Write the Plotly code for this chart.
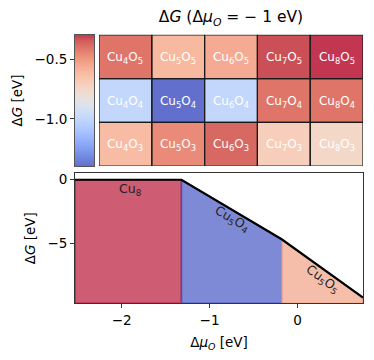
import numpy as np
import plotly.graph_objects as go

# heatmap data: dG at dmu_O = -1 eV, rows O3 (bottom) .. O5 (top), columns Cu4..Cu8
n_cu = [4, 5, 6, 7, 8]
n_o = [3, 4, 5]
dG_O3 = [-0.62, -0.46, -0.37, -0.70, -0.745]
dG_O4 = [-1.00, -1.40, -1.00, -0.40, -0.40]
dG_O5 = [-0.40, -0.61, -0.56, -0.32, -0.29]

# phase diagram: envelope breakpoints and stable phases between them
mu_pts = [-2.53, -1.32, -0.18, 0.745]
dG_pts = [0.0, 0.0, -4.70, -9.30]
phases = ["Cu<sub>8</sub>", "Cu<sub>5</sub>O<sub>4</sub>", "Cu<sub>5</sub>O<sub>5</sub>"]
phase_colors = ["rgba(180,4,38,0.65)", "rgba(59,76,192,0.65)", "rgba(240,155,125,0.65)"]

# matplotlib coolwarm
coolwarm = [
    (59, 76, 192), (68, 90, 204), (77, 104, 215), (87, 117, 225), (98, 130, 234),
    (108, 142, 241), (119, 154, 247), (130, 165, 251), (141, 176, 254), (152, 185, 255),
    (163, 194, 255), (174, 201, 253), (184, 208, 249), (194, 213, 244), (204, 217, 238),
    (213, 219, 230), (221, 221, 221), (229, 216, 209), (236, 211, 197), (241, 204, 185),
    (245, 196, 173), (247, 187, 160), (247, 177, 148), (247, 166, 135), (244, 154, 123),
    (241, 141, 111), (236, 127, 99), (229, 112, 88), (222, 96, 77), (213, 80, 66),
    (203, 62, 56), (192, 40, 47), (180, 4, 38),
]
cscale = [[i / (len(coolwarm) - 1), "rgb(%d,%d,%d)" % c] for i, c in enumerate(coolwarm)]

FONT = "DejaVu Sans"
AX = "#333333"

z = np.array([dG_O3, dG_O4, dG_O5])
zmin, zmax = z.min(), z.max()
labels = [["Cu<sub>%d</sub>O<sub>%d</sub>" % (c, o) for c in n_cu] for o in n_o]

fig = go.Figure()

fig.add_trace(
    go.Heatmap(
        z=z,
        x=list(range(len(n_cu))),
        y=list(range(len(n_o))),
        text=labels,
        texttemplate="%{text}",
        textfont=dict(family=FONT, size=12, color="white"),
        colorscale=cscale,
        zmin=zmin,
        zmax=zmax,
        opacity=0.8,
        showscale=False,
        hoverinfo="skip",
        xaxis="x",
        yaxis="y",
    )
)

# colorbar drawn as its own narrow heatmap so ticks can sit on the left
cb_vals = np.linspace(zmin, zmax, 200)
fig.add_trace(
    go.Heatmap(
        z=cb_vals.reshape(-1, 1),
        y=cb_vals,
        x=[0],
        colorscale=cscale,
        zmin=zmin,
        zmax=zmax,
        opacity=0.8,
        showscale=False,
        hoverinfo="skip",
        xaxis="x3",
        yaxis="y3",
    )
)

# cell borders
shapes = []
for i in range(len(n_cu)):
    for j in range(len(n_o)):
        shapes.append(
            dict(type="rect", xref="x", yref="y", x0=i - 0.5, x1=i + 0.5,
                 y0=j - 0.5, y1=j + 0.5, line=dict(color="#1a1a1a", width=1.2))
        )

# phase diagram
ylo = -9.76
for k, (name, col) in enumerate(zip(phases, phase_colors)):
    a, b = mu_pts[k], mu_pts[k + 1]
    fig.add_trace(
        go.Scatter(
            x=[a, a, b, b, a],
            y=[ylo, dG_pts[k], dG_pts[k + 1], ylo, ylo],
            mode="lines",
            fill="toself",
            fillcolor=col,
            line=dict(color=col, width=1.5),
            showlegend=False,
            hoverinfo="skip",
            xaxis="x2",
            yaxis="y2",
        )
    )
fig.add_trace(
    go.Scatter(
        x=mu_pts, y=dG_pts, mode="lines",
        line=dict(color="black", width=2.2),
        showlegend=False, hoverinfo="skip", xaxis="x2", yaxis="y2",
    )
)

ann = [
    dict(x=-1.91, y=-0.78, text=phases[0], textangle=0),
    dict(x=-0.74, y=-3.15, text=phases[1], textangle=30),
    dict(x=0.29, y=-7.85, text=phases[2], textangle=36),
]
annotations = [
    dict(xref="x2", yref="y2", showarrow=False,
         font=dict(family=FONT, size=12.5, color="#222222"), **a)
    for a in ann
]

tickfont = dict(family=FONT, size=13.5, color="black")
fig.update_layout(
    width=374,
    height=360,
    autosize=False,
    margin=dict(l=0, r=0, t=0, b=0),
    paper_bgcolor="white",
    plot_bgcolor="white",
    font=dict(family=FONT, size=13.5, color="black"),
    title=dict(
        text="Δ<i>G</i> (Δ<i>μ</i><sub><i>O</i></sub> = − 1 eV)",
        x=231 / 374, y=1 - 17 / 360, xanchor="center", yanchor="middle",
        font=dict(family=FONT, size=15.5, color="black"),
    ),
    xaxis=dict(domain=[99 / 374, 363 / 374], range=[-0.5, 4.5], visible=False),
    yaxis=dict(domain=[1 - 165 / 360, 1 - 33 / 360], range=[-0.5, 2.5], visible=False),
    xaxis3=dict(domain=[75 / 374, 94 / 374], range=[-0.5, 0.5], anchor="y3",
                showticklabels=False, ticks="", showgrid=False, zeroline=False,
                showline=True, mirror=True, linecolor="#555555", linewidth=1),
    yaxis3=dict(domain=[1 - 165 / 360, 1 - 33 / 360], range=[zmin, zmax], anchor="x3",
                tickvals=[-1.0, -0.5], ticktext=["−1.0", "−0.5"],
                ticks="outside", ticklen=4, tickwidth=1, tickcolor=AX,
                tickfont=tickfont, showgrid=False, zeroline=False,
                showline=True, mirror=True, linecolor="#555555", linewidth=1,
                title=dict(text="Δ<i>G</i> [eV]", standoff=8, font=tickfont)),
    xaxis2=dict(domain=[75 / 374, 363 / 374], range=[-2.53, 0.745], anchor="y2",
                tickvals=[-2, -1, 0], ticktext=["−2", "−1", "0"],
                ticks="outside", ticklen=4, tickwidth=1, tickcolor=AX,
                tickfont=tickfont, showgrid=False, zeroline=False,
                showline=True, mirror=True, linecolor=AX, linewidth=1,
                title=dict(text="Δ<i>μ</i><sub><i>O</i></sub> [eV]", standoff=11, font=tickfont)),
    yaxis2=dict(domain=[1 - 303 / 360, 1 - 172 / 360], range=[ylo, 0.53], anchor="x2",
                tickvals=[-5, 0], ticktext=["−5", "0"],
                ticks="outside", ticklen=4, tickwidth=1, tickcolor=AX,
                tickfont=tickfont, showgrid=False, zeroline=False,
                showline=True, mirror=True, linecolor=AX, linewidth=1,
                title=dict(text="Δ<i>G</i> [eV]", standoff=8, font=tickfont)),
    shapes=shapes,
    annotations=annotations,
)

fig.write_html(
    "out.html",
    config={"displayModeBar": False},
    post_script="document.body.style.margin='0';",
)
